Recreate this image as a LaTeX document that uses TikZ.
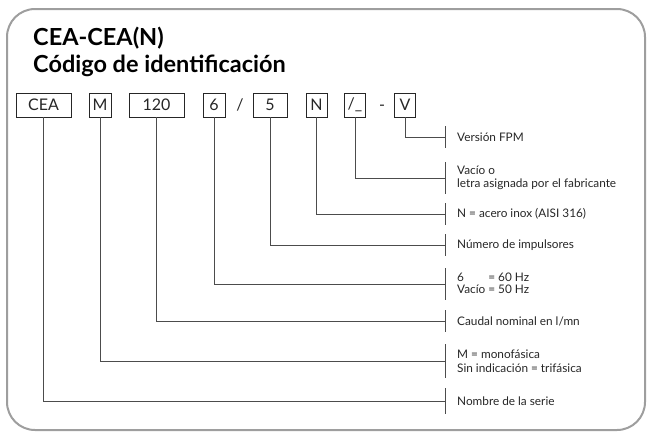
\documentclass[tikz,border=0pt]{standalone}
\usepackage{fontspec}
\setmainfont{Lato}
\begin{document}
\begin{tikzpicture}[x=1pt,y=-1pt,
  codebox/.style={draw=black!85,line width=0.9pt,minimum height=24pt,inner sep=0pt,font=\fontsize{16}{16}\selectfont,text=black!85},
  sep/.style={anchor=base,inner sep=0pt,font=\fontsize{16}{16}\selectfont,text=black!85},
  conn/.style={draw=black!70,line width=0.9pt},
  lbl/.style={anchor=west,inner sep=0pt,align=left,font=\fontsize{11.8}{13.5}\selectfont,text=black!85},
  frame/.style={draw=black!38,line width=2pt,rounded corners=28pt}]
\useasboundingbox (0,0) rectangle (648,432);
\draw[frame] (7,9) rectangle (645,430);
\node[anchor=base west,inner sep=0pt,font=\fontsize{23.5}{23.5}\selectfont\bfseries] (t1) at (33,45) {CEA-CEA(N)};
\node[anchor=base west,inner sep=0pt,font=\fontsize{23.5}{23.5}\selectfont\bfseries] (t2) at (33,72) {Código de identificación};
% boxes
\node[codebox,minimum width=55pt] (bCEA) at (43.5,105) {CEA};
\node[codebox,minimum width=22pt] (bM) at (100,105) {M};
\node[codebox,minimum width=55pt] (b120) at (156.5,105) {120};
\node[codebox,minimum width=22pt] (b6) at (214,105) {6};
\node[sep] (s1) at (240,110.8) {/};
\node[codebox,minimum width=34pt] (b5) at (270,105) {5};
\node[codebox,minimum width=21pt] (bN) at (316.5,105) {N};
\node[codebox,minimum width=21pt] (bS) at (355,105) {/\_};
\node[sep] (s2) at (382,110.8) {-};
\node[codebox,minimum width=21pt] (bV) at (405,105) {V};
% tick coordinates
\coordinate (tV) at (445,137);
\coordinate (tS) at (445,178);
\coordinate (tN) at (445,214);
\coordinate (t5) at (445,245);
\coordinate (t6) at (445,284);
\coordinate (t120) at (445,321);
\coordinate (tM) at (445,361);
\coordinate (tCEA) at (445,401);
% connectors
\draw[conn] (bV.south) |- (tV);
\draw[conn] (bS.south) |- (tS);
\draw[conn] (bN.south) |- (tN);
\draw[conn] (b5.south) |- (t5);
\draw[conn] (b6.south) |- (t6);
\draw[conn] (b120.south) |- (t120);
\draw[conn] (bM.south) |- (tM);
\draw[conn] (bCEA.south) |- (tCEA);
% ticks
\foreach \t/\h in {tV/11,tN/11,t5/11,t120/11,tCEA/13,tS/16,t6/16,tM/17}
  \draw[conn] ([yshift=\h pt]\t) -- ([yshift=-\h pt]\t);
% labels
\node[lbl] (lV) at (457,137) {Versión FPM};
\node[lbl] (lS) at (457,178) {Vacío o\\letra asignada por el fabricante};
\node[lbl] (lN) at (457,214) {N = acero inox (AISI 316)};
\node[lbl] (l5) at (457,245) {Número de impulsores};
\node[lbl] (l6) at (457,285) {\begin{tabular}{@{}l@{ }l@{}}6 & = 60 Hz\\[-2pt] Vacío & = 50 Hz\end{tabular}};
\node[lbl] (l120) at (457,321) {Caudal nominal en l/mn};
\node[lbl] (lM) at (457,361) {M = monofásica\\Sin indicación = trifásica};
\node[lbl] (lCEA) at (457,401) {Nombre de la serie};
\end{tikzpicture}
\end{document}
